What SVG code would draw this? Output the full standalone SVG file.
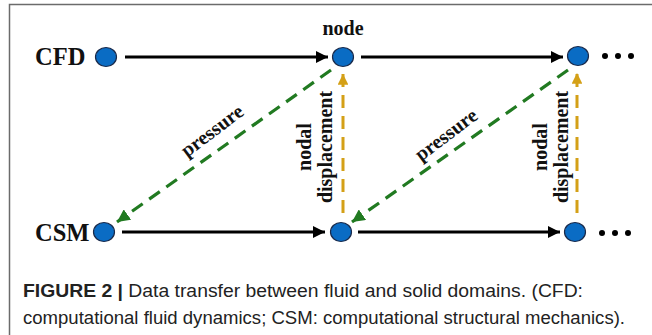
<svg xmlns="http://www.w3.org/2000/svg" width="652" height="335" viewBox="0 0 652 335">
<defs>
<style>
.frame{stroke:#6b6b6b;stroke-width:1.5;fill:none}
.node{fill:#0a6cc4;stroke:#1a2a4a;stroke-width:1.2}
.lbl{font-family:"Liberation Serif","Times New Roman",serif;font-weight:bold;fill:#111}
.big{font-size:24.5px}
.mid{font-size:20px}
.flow{stroke:#000;stroke-width:3;fill:none}
.pres{stroke:#217a21;stroke-width:3.2;fill:none;stroke-dasharray:13 8}
.disp{stroke:#d4a017;stroke-width:3;fill:none;stroke-dasharray:13 8}
.cap{font-family:"Liberation Sans",Arial,sans-serif;font-size:17.5px;fill:#222}
.dot{fill:#000}
</style>
<marker id="ah" viewBox="0 0 10 10" refX="10" refY="5" markerWidth="4" markerHeight="4" markerUnits="strokeWidth" orient="auto"><path d="M0,0 L10,5 L0,10 z" fill="#000"/></marker>
<marker id="ag" viewBox="0 0 10 10" refX="10" refY="5" markerWidth="4" markerHeight="4" markerUnits="strokeWidth" orient="auto"><path d="M0,0 L10,5 L0,10 z" fill="#217a21"/></marker>
<marker id="ay" viewBox="0 0 10 10" refX="10" refY="5" markerWidth="3.6" markerHeight="3.6" markerUnits="strokeWidth" orient="auto"><path d="M0,0 L10,5 L0,10 z" fill="#d4a017"/></marker>
</defs>
<path class="frame" d="M9.5,335 V4.5 H652"/>
<g id="connectors">
<line class="flow" x1="125" y1="57" x2="328" y2="57" marker-end="url(#ah)"/>
<line class="flow" x1="361" y1="57" x2="563" y2="57" marker-end="url(#ah)"/>
<line class="flow" x1="122" y1="232" x2="325" y2="232" marker-end="url(#ah)"/>
<line class="flow" x1="358" y1="232" x2="560" y2="232" marker-end="url(#ah)"/>
<line class="pres" x1="331" y1="70" x2="117" y2="222" marker-end="url(#ag)"/>
<line class="pres" x1="568" y1="70" x2="352" y2="222" marker-end="url(#ag)"/>
<line class="disp" x1="343" y1="213" x2="343" y2="74" marker-end="url(#ay)"/>
<line class="disp" x1="577" y1="213" x2="577" y2="73" marker-end="url(#ay)"/>
<text class="lbl mid" transform="translate(216,136) rotate(-37)" text-anchor="middle">pressure</text>
<text class="lbl mid" transform="translate(450,140) rotate(-37)" text-anchor="middle">pressure</text>
<text class="lbl mid" transform="translate(311,147) rotate(-90)" text-anchor="middle">nodal</text>
<text class="lbl mid" transform="translate(332,147) rotate(-90)" text-anchor="middle">displacement</text>
<text class="lbl mid" transform="translate(547,147) rotate(-90)" text-anchor="middle">nodal</text>
<text class="lbl mid" transform="translate(568,147) rotate(-90)" text-anchor="middle">displacement</text>
</g>
<g id="cfd">
<text class="lbl big" x="35" y="65">CFD</text>
<ellipse class="node" cx="106" cy="57" rx="10.5" ry="9.5"/>
</g>
<g id="cfd-node2">
<text class="lbl mid" x="343" y="35" text-anchor="middle">node</text>
<ellipse class="node" cx="343" cy="57" rx="10.5" ry="9.5"/>
</g>
<g id="cfd-node3">
<ellipse class="node" cx="578" cy="56" rx="10.5" ry="9.5"/>
<circle class="dot" cx="605" cy="56" r="3"/><circle class="dot" cx="618" cy="56" r="3"/><circle class="dot" cx="631" cy="56" r="3"/>
</g>
<g id="csm">
<text class="lbl big" x="35" y="241">CSM</text>
<ellipse class="node" cx="104" cy="232" rx="10.5" ry="9.5"/>
</g>
<g id="csm-node2">
<ellipse class="node" cx="341" cy="232" rx="10.5" ry="9.5"/>
</g>
<g id="csm-node3">
<ellipse class="node" cx="575" cy="232" rx="10.5" ry="9.5"/>
<circle class="dot" cx="602" cy="233" r="3"/><circle class="dot" cx="615" cy="233" r="3"/><circle class="dot" cx="628" cy="233" r="3"/>
</g>
<g id="caption">
<text class="cap" x="23" y="297" textLength="560" lengthAdjust="spacingAndGlyphs"><tspan font-weight="bold">FIGURE 2 |</tspan> Data transfer between fluid and solid domains. (CFD:</text>
<text class="cap" x="23" y="324" textLength="602" lengthAdjust="spacingAndGlyphs">computational fluid dynamics; CSM: computational structural mechanics).</text>
</g>
</svg>
